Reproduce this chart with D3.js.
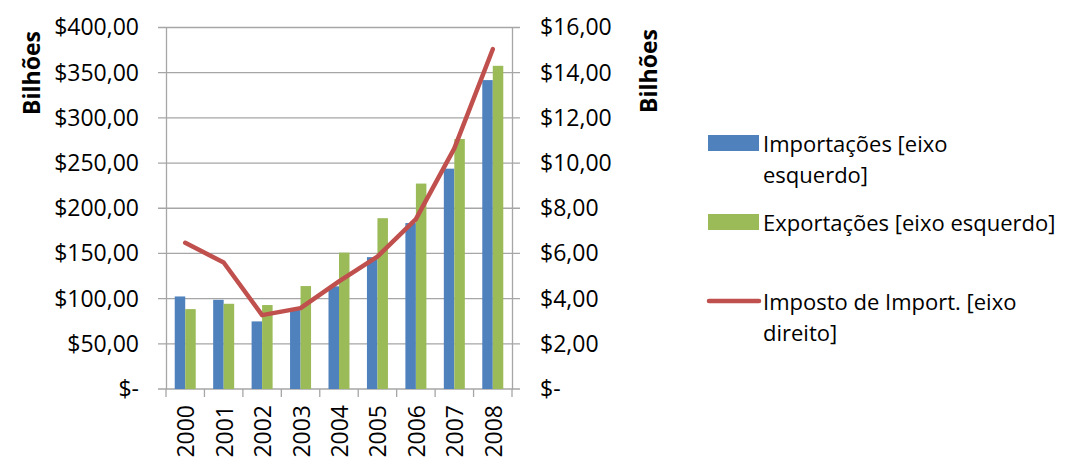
<!DOCTYPE html>
<html>
<head>
<meta charset="utf-8">
<script src="https://cdn.jsdelivr.net/npm/d3@7"></script>
<style>
  html, body { margin: 0; padding: 0; background: #fff; }
  svg { display: block; }
  text { font-family: "Open Sans", "DejaVu Sans", sans-serif; fill: #000; }
</style>
</head>
<body>
<svg id="chart" width="1069" height="457"></svg>
<script>
// Anos
const years = ["2000", "2001", "2002", "2003", "2004", "2005", "2006", "2007", "2008"];
// Bilhões (eixo esquerdo)
const importacoes = [102.4, 98.7, 74.8, 87.3, 113.6, 145.9, 183.6, 243.8, 341.8];
const exportacoes = [88.4, 94.3, 92.9, 113.9, 150.9, 189.0, 227.3, 276.6, 357.6];
// Bilhões (eixo direito)
const impostoImport = [6.47, 5.60, 3.27, 3.58, 4.76, 5.86, 7.52, 10.65, 15.04];

const leftTicks = [0, 50, 100, 150, 200, 250, 300, 350, 400];
const leftTickLabels = ["$-", "$50,00", "$100,00", "$150,00", "$200,00", "$250,00", "$300,00", "$350,00", "$400,00"];
const rightTicks = [0, 2, 4, 6, 8, 10, 12, 14, 16];
const rightTickLabels = ["$-", "$2,00", "$4,00", "$6,00", "$8,00", "$10,00", "$12,00", "$14,00", "$16,00"];

const legendLines = [["Importações [eixo", "esquerdo]"], ["Exportações [eixo esquerdo]"], ["Imposto de Import. [eixo", "direito]"]];

const colors = { imp: "#4F81BD", exp: "#9BBB59", tax: "#C0504D", grid: "#A6A6A6" };

const svg = d3.select("#chart");
const plot = { left: 166, right: 512, top: 27.5, bottom: 389 };

const x = d3.scaleBand().domain(years).range([plot.left, plot.right]).paddingInner(0).paddingOuter(0);
const bw = x.bandwidth();
const pairW = 21;
const xInner = d3.scaleBand().domain(["imp", "exp"]).range([(bw - pairW) / 2, (bw + pairW) / 2]);
const yL = d3.scaleLinear().domain([0, 400]).range([plot.bottom, plot.top]);
const yR = d3.scaleLinear().domain([0, 16]).range([plot.bottom, plot.top]);

// Linhas de grade horizontais
svg.append("g")
  .selectAll("line")
  .data(leftTicks)
  .join("line")
  .attr("x1", plot.left - 8).attr("x2", plot.right + 8)
  .attr("y1", d => yL(d)).attr("y2", d => yL(d))
  .attr("stroke", colors.grid).attr("stroke-width", 1.3);

// Eixo esquerdo
const axL = svg.append("g").attr("transform", `translate(${plot.left},0)`)
  .call(d3.axisLeft(yL).tickValues(leftTicks).tickSize(0).tickPadding(27)
    .tickFormat((d, i) => leftTickLabels[i]));
axL.select(".domain").attr("stroke", colors.grid).attr("stroke-width", 1.3);
axL.selectAll("text").style("font-size", "23px").style("font-family", "'Open Sans', sans-serif").attr("fill", "#000");

// Eixo direito
const axR = svg.append("g").attr("transform", `translate(${plot.right},0)`)
  .call(d3.axisRight(yR).tickValues(rightTicks).tickSize(0).tickPadding(28)
    .tickFormat((d, i) => rightTickLabels[i]));
axR.select(".domain").attr("stroke", colors.grid).attr("stroke-width", 1.3);
axR.selectAll("text").style("font-size", "23px").style("font-family", "'Open Sans', sans-serif").attr("fill", "#000");

// Eixo das categorias
const boundaries = years.map(y => x(y)).concat([plot.right]);
svg.append("g").selectAll("line")
  .data(boundaries)
  .join("line")
  .attr("x1", d => d).attr("x2", d => d)
  .attr("y1", plot.bottom).attr("y2", plot.bottom + 8)
  .attr("stroke", colors.grid).attr("stroke-width", 1.3);

svg.append("g").selectAll("text")
  .data(years)
  .join("text")
  .attr("transform", d => `translate(${x(d) + bw / 2},${plot.bottom + 16}) rotate(-90)`)
  .attr("text-anchor", "end")
  .attr("dominant-baseline", "central")
  .style("font-size", "23px")
  .text(d => d);

// Barras
const barData = years.flatMap((yr, i) => [
  { year: yr, key: "imp", value: importacoes[i] },
  { year: yr, key: "exp", value: exportacoes[i] }
]);
svg.append("g").selectAll("rect")
  .data(barData)
  .join("rect")
  .attr("x", d => x(d.year) + xInner(d.key))
  .attr("width", xInner.bandwidth())
  .attr("y", d => yL(d.value))
  .attr("height", d => yL(0) - yL(d.value))
  .attr("fill", d => colors[d.key]);

// Linha do imposto
const line = d3.line()
  .x((d, i) => x(years[i]) + bw / 2)
  .y(d => yR(d));
svg.append("path")
  .datum(impostoImport)
  .attr("d", line)
  .attr("fill", "none")
  .attr("stroke", colors.tax)
  .attr("stroke-width", 4.5)
  .attr("stroke-linejoin", "round")
  .attr("stroke-linecap", "round");

// Títulos dos eixos
svg.append("text")
  .attr("transform", "translate(31,73) rotate(-90)")
  .attr("text-anchor", "middle").attr("dominant-baseline", "central")
  .style("font-size", "23px").style("font-weight", "bold")
  .text("Bilhões");
svg.append("text")
  .attr("transform", "translate(648,71) rotate(-90)")
  .attr("text-anchor", "middle").attr("dominant-baseline", "central")
  .style("font-size", "23px").style("font-weight", "bold")
  .text("Bilhões");

// Legenda
const legend = svg.append("g");
const legendY = [143, 222, 301];
const legendKeys = ["imp", "exp", "tax"];
legendKeys.forEach((k, i) => {
  const g = legend.append("g").attr("transform", `translate(708,${legendY[i]})`);
  if (k === "tax") {
    g.append("line").attr("x1", 1).attr("x2", 51).attr("y1", 0).attr("y2", 0)
      .attr("stroke", colors.tax).attr("stroke-width", 4.5).attr("stroke-linecap", "round");
  } else {
    g.append("rect").attr("x", 0).attr("y", -8).attr("width", 51).attr("height", 16)
      .attr("fill", colors[k]);
  }
  legendLines[i].forEach((t, j) => {
    g.append("text")
      .attr("x", 55).attr("y", j * 31)
      .attr("dominant-baseline", "central")
      .style("font-size", "22px")
      .text(t);
  });
});
</script>
</body>
</html>
